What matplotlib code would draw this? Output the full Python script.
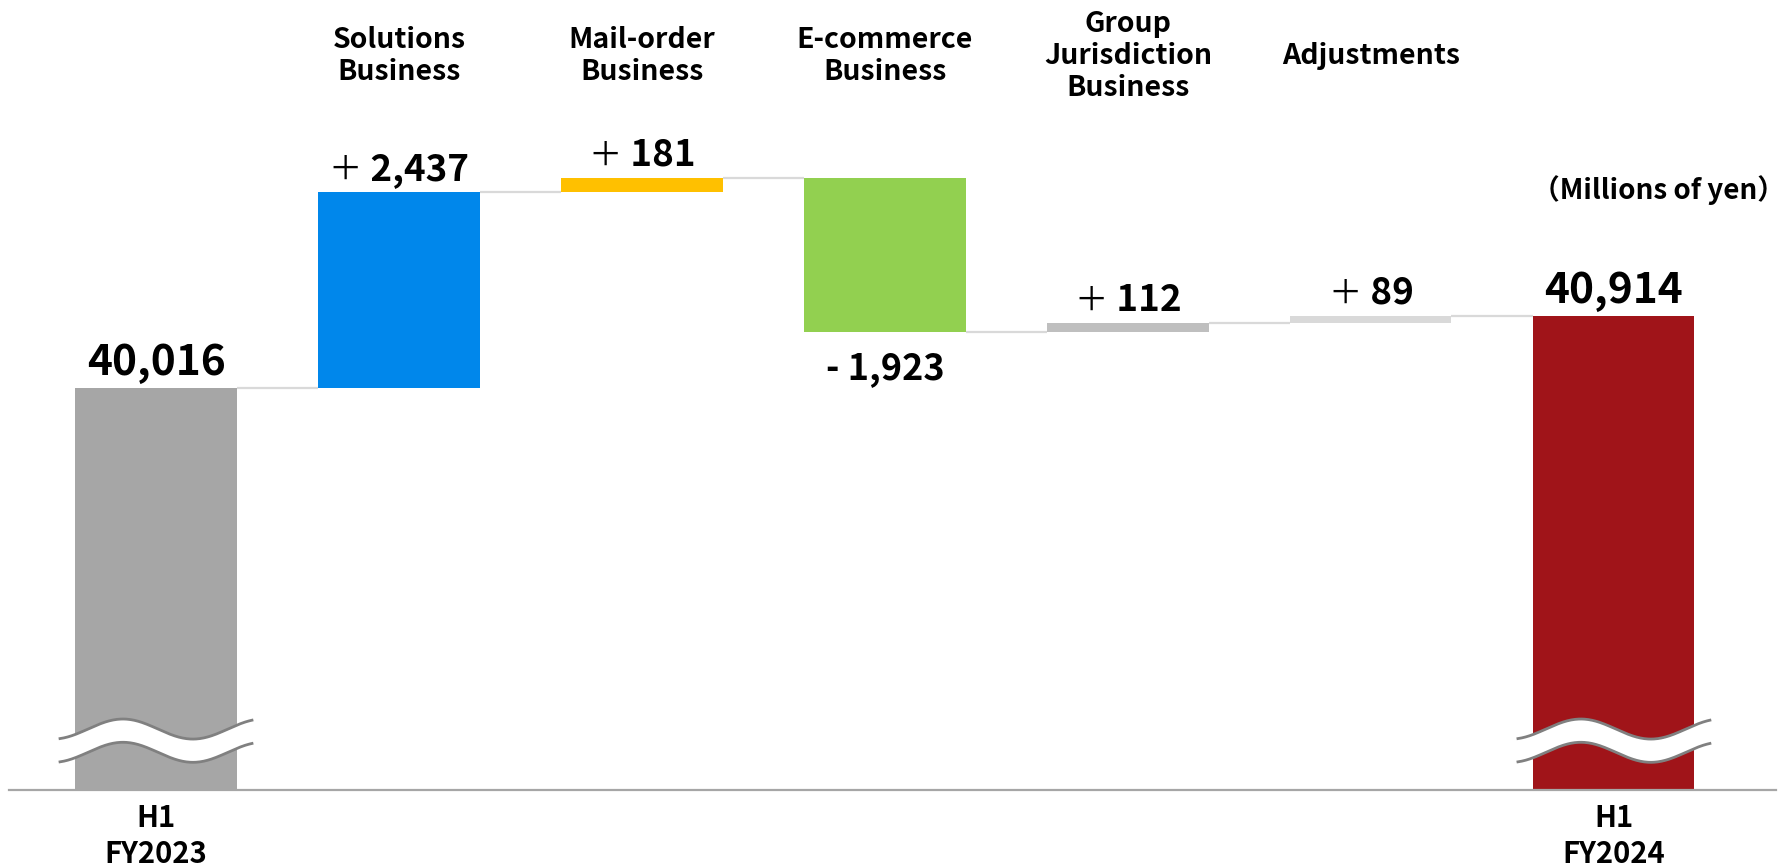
import numpy as np
import matplotlib
matplotlib.use("Agg")
import matplotlib.pyplot as plt
from matplotlib.transforms import blended_transform_factory
from matplotlib.offsetbox import TextArea, HPacker, AnnotationBbox

plt.rcParams['font.family'] = ['Noto Sans CJK JP', 'DejaVu Sans']

# ---- data (millions of yen) ----
start_label = "H1\nFY2023"
end_label = "H1\nFY2024"
start_value = 40016
end_value = 40914
segments = ["Solutions\nBusiness", "Mail-order\nBusiness", "E-commerce\nBusiness",
            "Group\nJurisdiction\nBusiness", "Adjustments"]
changes = [2437, 181, -1923, 112, 89]
change_colors = ["#0087EB", "#FFC000", "#92D050", "#BFBFBF", "#D9D9D9"]
start_color = "#A6A6A6"
end_color = "#A01419"
unit_label = "（Millions of yen）"

axis_floor = 35000
axis_top = 44850

fig = plt.figure(figsize=(17.83, 8.66), dpi=100)
ax = fig.add_axes([9 / 1783, 76 / 866, 1767 / 1783, 790 / 866])
ax.set_xlim(-0.605, 6.667)
ax.set_ylim(axis_floor, axis_top)

width = 0.663
n = len(changes)
xs_end = n + 1

# totals (drawn from the broken axis floor)
ax.bar(0, start_value - axis_floor, bottom=axis_floor, width=width,
       color=start_color, zorder=2)
ax.bar(xs_end, end_value - axis_floor, bottom=axis_floor, width=width,
       color=end_color, zorder=2)

# floating change bars
levels = [start_value]
for v in changes:
    levels.append(levels[-1] + v)
for i, v in enumerate(changes):
    lo = min(levels[i], levels[i + 1])
    ax.bar(i + 1, abs(v), bottom=lo, width=width, color=change_colors[i], zorder=2)

# connector lines between consecutive bars
for i in range(n + 1):
    y = levels[i]
    ax.plot([i + width / 2, i + 1 - width / 2], [y, y],
            color="#D9D9D9", lw=1.6, zorder=1, solid_capstyle="butt")

# value labels
big = dict(fontsize=30.5, fontweight="bold", color="black")
ax.annotate(f"{start_value:,}", (0, start_value), xytext=(0, 3),
            textcoords="offset points", ha="center", va="bottom", **big)
ax.annotate(f"{end_value:,}", (xs_end, end_value), xytext=(0, 3),
            textcoords="offset points", ha="center", va="bottom", **big)

for i, v in enumerate(changes):
    num = f"{abs(v):,}"
    if v >= 0:
        parts = [TextArea("＋", textprops=dict(fontsize=24, fontweight="normal", color="black")),
                 TextArea(" " + num, textprops=dict(fontsize=26.5, fontweight="bold", color="black"))]
        box_align = (0.5, 0.0)
        off = (0, 3)
    else:
        parts = [TextArea("- " + num, textprops=dict(fontsize=26, fontweight="bold", color="black"))]
        box_align = (0.5, 1.0)
        off = (0, -13)
    pack = HPacker(children=parts, align="baseline", pad=0, sep=0)
    ab = AnnotationBbox(pack, (i + 1, levels[i + 1]), xybox=off, boxcoords="offset points",
                        box_alignment=box_align, frameon=False, pad=0)
    ax.add_artist(ab)

# category labels across the top
tr = blended_transform_factory(ax.transData, fig.transFigure)
for i, name in enumerate(segments):
    ax.text(i + 1, 1 - 56 / 866, name, transform=tr, ha="center", va="center",
            fontsize=20.5, fontweight="bold", linespacing=1.18)

# labels under the totals
for xpos, lab in [(0, start_label), (xs_end, end_label)]:
    ax.text(xpos, 30 / 866, lab, transform=tr, ha="center", va="center",
            fontsize=21, fontweight="bold", linespacing=1.28)

fig.text(1.001, 1 - 190 / 866, unit_label, ha="right", va="center",
         fontsize=20, fontweight="bold")

# axis break marks on the total bars
def draw_break(xc):
    t = np.linspace(-0.395, 0.395, 200)
    period = 0.576
    wave = 125 * np.cos(2 * np.pi * (t + 0.136) / period)
    upper = 35760 + wave
    lower = 35470 + wave
    ax.fill_between(xc + t, lower, upper, color="white", zorder=3, lw=0)
    ax.plot(xc + t, upper, color="#808080", lw=2.0, zorder=4)
    ax.plot(xc + t, lower, color="#808080", lw=2.0, zorder=4)

draw_break(0)
draw_break(xs_end)

# axes styling
for s in ["top", "right", "left"]:
    ax.spines[s].set_visible(False)
ax.spines["bottom"].set_color("#A6A6A6")
ax.spines["bottom"].set_linewidth(1.6)
ax.spines["bottom"].set_zorder(5)
ax.set_xticks([])
ax.set_yticks([])
ax.patch.set_visible(False)

fig.savefig("out.png", dpi=100)
